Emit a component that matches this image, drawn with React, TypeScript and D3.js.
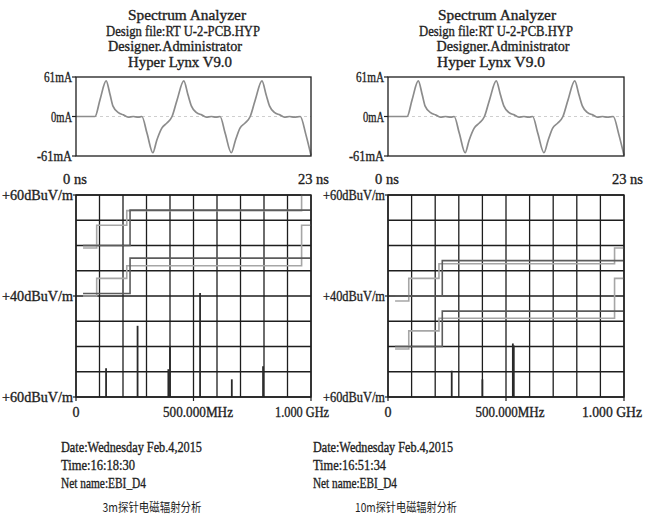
import React from "react";
import * as d3 from "d3";

// header / labels
const headerLines = ["Spectrum Analyzer", "Design file:RT U-2-PCB.HYP", "Designer.Administrator", "Hyper Lynx V9.0"];
const currentTicks = [61, 0, -61];
const currentTickLabels = ["61mA", "0mA", "-61mA"];
const timeTickLabels = ["0 ns", "23 ns"];
const levelTicks = [60, 40, 20];
const levelTickLabels = ["+60dBuV/m", "+40dBuV/m", "+60dBuV/m"];
const freqTicks = [0, 500, 1000];
const freqTickLabels = ["0", "500.000MHz", "1.000 GHz"];

// current waveform (ns, mA)
const waveTime = [0, 1.86, 2.35, 2.95, 3.33, 3.62, 4.15, 4.64, 5.1, 5.6, 6.1, 6.45, 6.95, 7.52, 7.9, 8.4, 8.9, 9.4, 9.9, 10.55, 10.95, 11.3, 11.8, 12.3, 12.75, 13.25, 13.7, 14.1, 14.6, 15.2, 15.6, 16.05, 16.55, 17.05, 17.55, 18.2, 18.6, 18.95, 19.45, 19.95, 20.4, 20.9, 21.35, 21.95, 22.5, 23];
const waveCurrent = [0, 0, 26, 55, 34, 16, 6, 2.5, -1, 0, -1, 0, -26, -56, -37, -18, -10, 0, 26, 55, 34, 16, 6, 2.5, -1, 0, -1, 0, -26, -56, -37, -18, -10, 0, 26, 55, 34, 16, 6, 2.5, -1, 0, -1, 0, -28, -60];

// limit lines: band edges (MHz) and levels (dBuV/m)
const fccEdges = [30, 88, 216, 960, 1000];
const cisprEdges = [30, 230, 1000];
const fccA3m = [49.5, 54, 56.9, 60];
const cisprA3m = [50, 57];
const fccB3m = [40, 43.5, 46, 54];
const cisprB3m = [40.5, 47.5];
const fccA10m = [39, 43.5, 46.4, 49.5];
const cisprA10m = [40, 47];
const fccB10m = [29.5, 33.1, 35.6, 43.5];
const cisprB10m = [30, 37];

// emission peaks
const peaks3mFreq = [128, 262, 393, 400, 528, 663, 796];
const peaks3mLevel = [25.7, 34.1, 25.5, 30, 40.6, 23.5, 26.1];
const peaks10mFreq = [270, 400, 529, 533];
const peaks10mLevel = [25.2, 23.5, 30.6, 30.2];

const info3m = ["Date:Wednesday Feb.4,2015", "Time:16:18:30", "Net name:EBI_D4"];
const info10m = ["Date:Wednesday Feb.4,2015", "Time:16:51:34", "Net name:EBI_D4"];
const captions = ["3m探针电磁辐射分析", "10m探针电磁辐射分析"];

const FONT = "'Liberation Serif', serif";
const INK = "#1e1e1e";
const LIGHT = "#a6a6a6";
const DARK = "#5c5c5c";

const T = ({ x, y, w, anchor = "start", size = 14.5, children, font = FONT, bold = 0.35 }: any) => (
  <text
    x={x}
    y={y}
    textAnchor={anchor}
    fontSize={size}
    fontFamily={font}
    fill={INK}
    stroke={INK}
    strokeWidth={bold}
    textLength={w}
    lengthAdjust={w ? "spacingAndGlyphs" : undefined}
  >
    {children}
  </text>
);

const panels = [
  {
    x0: 76, x1: 311,
    headX: [187, 183, 175, 180], headW: [118, 154, 134, 104],
    time: [{ x: 63, a: "start" }, { x: 329, a: "end" }],
    levelEnd: 73, levelW: 71,
    freqLab: [{ x: 76, w: 7, a: "middle" }, { x: 198, w: 70, a: "middle" }, { x: 275, w: 54, a: "start" }],
    infoX: 61, infoW: [141, 74, 85],
    capX: 152, capW: 99,
    limits: [
      { edges: fccEdges, levels: fccA3m, color: LIGHT },
      { edges: cisprEdges, levels: cisprA3m, color: DARK },
      { edges: fccEdges, levels: fccB3m, color: LIGHT },
      { edges: cisprEdges, levels: cisprB3m, color: DARK },
    ],
    peakF: peaks3mFreq, peakL: peaks3mLevel,
    info: info3m, caption: captions[0],
  },
  {
    x0: 388, x1: 624,
    headX: [497, 496, 503, 491], headW: [118, 154, 133, 108],
    time: [{ x: 375, a: "start" }, { x: 643, a: "end" }],
    levelEnd: 385, levelW: 62,
    freqLab: [{ x: 388, w: 7, a: "middle" }, { x: 510, w: 69, a: "middle" }, { x: 582, w: 60, a: "start" }],
    infoX: 313, infoW: [140, 73, 84],
    capX: 406, capW: 102,
    limits: [
      { edges: fccEdges, levels: fccA10m, color: LIGHT },
      { edges: cisprEdges, levels: cisprA10m, color: DARK },
      { edges: fccEdges, levels: fccB10m, color: LIGHT },
      { edges: cisprEdges, levels: cisprB10m, color: DARK },
    ],
    peakF: peaks10mFreq, peakL: peaks10mLevel,
    info: info10m, caption: captions[1],
  },
];

const Panel = ({ p }: any) => {
  const wx = d3.scaleLinear().domain([0, 23]).range([p.x0, p.x1]);
  const wy = d3.scaleLinear().domain([-61, 61]).range([156, 77]);
  const fx = d3.scaleLinear().domain([0, 1000]).range([p.x0, p.x1]);
  const ly = d3.scaleLinear().domain([20, 60]).range([397, 195]);

  const wave = d3
    .line<number>()
    .x((_, i) => wx(waveTime[i]))
    .y((d) => wy(d))
    .curve(d3.curveMonotoneX)(waveCurrent);

  const step = d3
    .line<[number, number]>()
    .x((d) => fx(d[0]))
    .y((d) => ly(d[1]))
    .curve(d3.curveStepAfter);

  return (
    <g>
      {headerLines.map((s, i) => (
        <T key={s} x={p.headX[i]} y={20 + i * 15.7} w={p.headW[i]} anchor="middle">
          {s}
        </T>
      ))}

      {/* waveform */}
      <line x1={p.x0} x2={p.x1} y1={wy(0)} y2={wy(0)} stroke="#cfcfcf" strokeDasharray="3,3" />
      <path d={wave || ""} fill="none" stroke="#8c8c8c" strokeWidth={1.7} />
      <rect x={p.x0} y={wy(61)} width={p.x1 - p.x0} height={wy(-61) - wy(61)} fill="none" stroke={INK} strokeWidth={1.3} />
      {currentTicks.map((v, i) => (
        <g key={v}>
          <line x1={p.x0 - 4} x2={p.x0} y1={wy(v)} y2={wy(v)} stroke={INK} strokeWidth={1.2} />
          <T x={p.x0 - 4} y={wy(v) + 5} anchor="end" w={currentTickLabels[i].length * 7}>
            {currentTickLabels[i]}
          </T>
        </g>
      ))}
      {timeTickLabels.map((s, i) => (
        <T key={s} x={p.time[i].x} y={184} anchor={p.time[i].a}>
          {s}
        </T>
      ))}

      {/* spectrum */}
      {fx.ticks(10).map((v) => (
        <line key={"c" + v} x1={fx(v)} x2={fx(v)} y1={ly(60)} y2={ly(20)} stroke={INK} strokeWidth={1.3} />
      ))}
      {ly.ticks(8).map((v) => (
        <line key={"r" + v} x1={p.x0} x2={p.x1} y1={ly(v)} y2={ly(v)} stroke={INK} strokeWidth={1.3} />
      ))}
      {p.limits.map((lim: any, i: number) => (
        <path
          key={"l" + i}
          d={step(lim.edges.map((e: number, j: number) => [e, lim.levels[Math.min(j, lim.levels.length - 1)]])) || ""}
          fill="none"
          stroke={lim.color}
          strokeWidth={1.6}
        />
      ))}
      {p.peakF.map((f: number, i: number) => (
        <line key={"p" + i} x1={fx(f)} x2={fx(f)} y1={ly(20)} y2={ly(p.peakL[i])} stroke="#2a2a2a" strokeWidth={1.8} />
      ))}
      <rect x={p.x0} y={ly(60)} width={p.x1 - p.x0} height={ly(20) - ly(60)} fill="none" stroke={INK} strokeWidth={1.4} />
      {levelTicks.map((v, i) => (
        <g key={"lt" + i}>
          <line x1={p.x0 - 3} x2={p.x0} y1={ly(v)} y2={ly(v)} stroke={INK} strokeWidth={1.2} />
          <T x={p.levelEnd} y={ly(v) + 4.5} anchor="end" w={p.levelW}>
            {levelTickLabels[i]}
          </T>
        </g>
      ))}
      {freqTicks.map((v, i) => (
        <g key={"ft" + i}>
          <line x1={fx(v)} x2={fx(v)} y1={ly(20)} y2={ly(20) + 4} stroke={INK} strokeWidth={1.2} />
          <T x={p.freqLab[i].x} y={417} anchor={p.freqLab[i].a} w={p.freqLab[i].w}>
            {freqTickLabels[i]}
          </T>
        </g>
      ))}

      {/* run info */}
      {p.info.map((s: string, i: number) => (
        <T key={s} x={p.infoX} y={452 + i * 18} w={p.infoW[i]}>
          {s}
        </T>
      ))}
      <T x={p.capX} y={512} anchor="middle" w={p.capW} size={12} bold={0} font="'Noto Sans CJK SC', sans-serif">
        {p.caption}
      </T>
    </g>
  );
};

export default function App() {
  return (
    <svg width={650} height={517} style={{ position: "absolute", left: 0, top: 0, background: "#fff" }}>
      {panels.map((p, i) => (
        <Panel key={i} p={p} />
      ))}
    </svg>
  );
}
